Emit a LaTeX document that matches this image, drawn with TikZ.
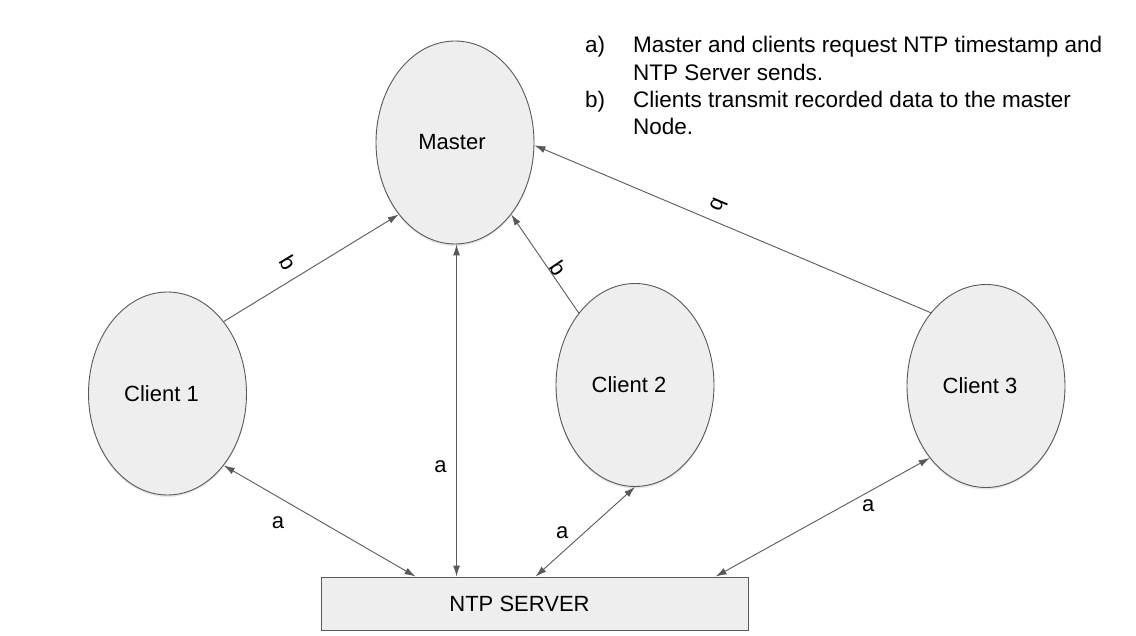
\documentclass[tikz,border=0pt]{standalone}
\usepackage{fontspec}
\setmainfont{Liberation Sans}
\usetikzlibrary{shapes.geometric,arrows.meta,calc,shadows}

\definecolor{edgegray}{HTML}{595959}
\definecolor{boxgray}{HTML}{EEEEEE}

\tikzset{
  blob/.style={ellipse, draw=edgegray, fill=boxgray, inner sep=0pt, line width=.9pt,
    minimum width=158pt, minimum height=203pt,
    drop shadow={shadow xshift=0pt, shadow yshift=-2pt, opacity=.2},
    font=\fontsize{22}{26}\selectfont},
  serverbox/.style={draw=edgegray, fill=boxgray, inner sep=0pt, line width=.9pt,
    minimum width=427pt, minimum height=53pt, font=\fontsize{22}{26}\selectfont},
  arr/.style={draw=edgegray, line width=.9pt, -{Latex[length=11pt,width=7pt]}},
  arrr/.style={draw=edgegray, line width=.9pt, {Latex[length=11pt,width=7pt]}-{Latex[length=11pt,width=7pt]}},
  lbl/.style={font=\fontsize{22}{26}\selectfont, inner sep=0pt},
}

\begin{document}
\begin{tikzpicture}[x=1pt, y=-1pt]
  \useasboundingbox (0,0) rectangle (1136,636);

  \node[blob] (m) at (455,142.5) {\hspace*{-6pt}Master};
  \foreach \i/\x/\y in {1/167.5/393.5, 2/635/385, 3/986/386}{
    \node[blob] (c\i) at (\x,\y) {Client \i\hspace*{12pt}};
  }
  \node[serverbox] (ntp) at (534.5,603.5) {NTP SERVER\hspace*{30pt}};

  % attachment points on top of the server
  \foreach \i/\d in {1/95, 2/136, 3/215, 4/395}{
    \coordinate (n\i) at ($(ntp.north west)+(\d,0)$);
  }

  % b: clients send data to master
  \draw[arr] (c1.52) -- (m.232) node[lbl, pos=.42, xshift=-9pt, yshift=14pt, rotate=-59]{b};
  \draw[arr] (c2.128) -- (m.-52) node[lbl, pos=.41, xshift=7pt, yshift=4pt, rotate=-56]{b};
  \draw[arr] (c3.127) -- (m.-2) node[lbl, pos=.55, xshift=6pt, yshift=15pt, rotate=-113]{b};

  % a: timestamps between server and nodes
  \draw[arrr] (n2) -- (n2 |- m.south) node[lbl, pos=.33, xshift=-16pt]{a};
  \draw[arrr] (c1.-52) -- (n1) node[lbl, pos=.34, xshift=-11pt, yshift=-19pt]{a};
  \draw[arrr] (c2.south) -- (n3) node[lbl, pos=.63, xshift=-10pt, yshift=11pt]{a};
  \draw[arrr] (c3.232) -- (n4) node[lbl, pos=.31, xshift=5pt, yshift=-11pt]{a};

  \node[anchor=base west, inner sep=0pt, font=\fontsize{22.5}{27.3}\selectfont] (key) at (585,53)
    {\begin{tabular}[t]{@{}p{48pt}@{}l@{}}
      a) & Master and clients request NTP timestamp and\\
         & NTP Server sends.\\
      b) & Clients transmit recorded data to the master\\
         & Node.
    \end{tabular}};
\end{tikzpicture}
\end{document}
